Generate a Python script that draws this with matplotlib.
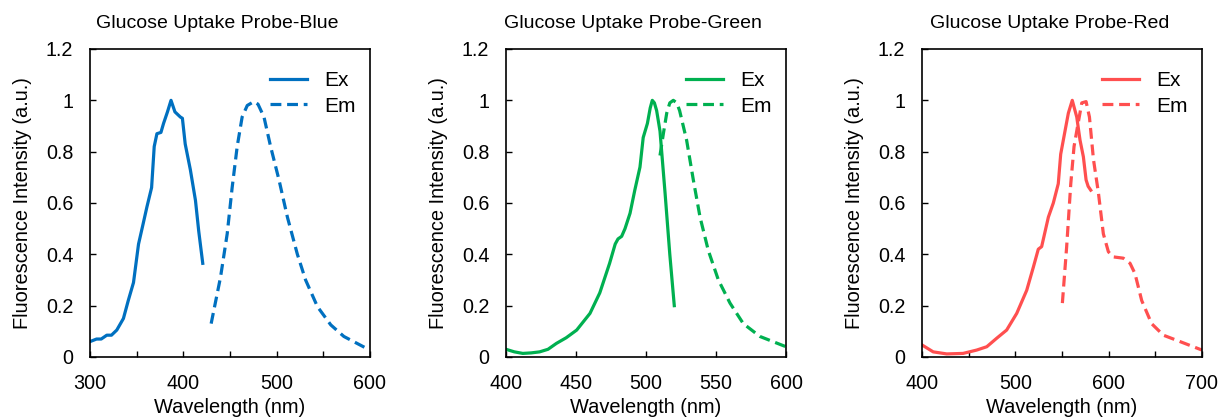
import matplotlib
matplotlib.use("Agg")
import matplotlib.pyplot as plt
from matplotlib.ticker import MultipleLocator

plt.rcParams['font.family'] = ['Liberation Sans', 'DejaVu Sans']

# ---- Data ----
titles = ["Glucose Uptake Probe-Blue", "Glucose Uptake Probe-Green", "Glucose Uptake Probe-Red"]
colors = ["#0070C0", "#00B050", "#FF4F4F"]
xlims = [(300, 600), (400, 600), (400, 700)]
xmajor = [100, 50, 100]
yticks = [0, 0.2, 0.4, 0.6, 0.8, 1.0, 1.2]
ytick_labels = ["0", "0.2", "0.4", "0.6", "0.8", "1", "1.2"]

blue_ex_x = [300, 307, 312, 318, 323, 328.7, 335.8, 341, 346.6, 352, 357, 361, 366, 368.8,
             371.7, 376, 378.8, 383, 386.8, 391, 396.8, 399, 402, 407.5, 413, 416.5, 420.8]
blue_ex_y = [0.06, 0.07, 0.07, 0.085, 0.085, 0.105, 0.15, 0.22, 0.29, 0.44, 0.52, 0.585, 0.66, 0.82,
             0.87, 0.875, 0.91, 0.955, 1.0, 0.955, 0.935, 0.93, 0.83, 0.73, 0.61, 0.49, 0.365]
blue_em_x = [429.8, 439.8, 447, 452.3, 457.7, 463, 468.5, 475.6, 480, 486.4, 493.5, 502.5,
             511.5, 522.2, 531, 543.7, 558, 572, 594]
blue_em_y = [0.13, 0.31, 0.48, 0.66, 0.82, 0.935, 0.98, 0.995, 0.985, 0.935, 0.82, 0.69,
             0.545, 0.40, 0.30, 0.196, 0.125, 0.08, 0.038]

green_ex_x = [400, 406, 412, 418, 424, 430, 436, 443, 450.5, 460, 467, 474, 478, 480, 482.6,
              485, 488.6, 492, 495.7, 498, 501, 503, 504.5, 506, 507.6, 510, 513.6, 517, 520.2]
green_ex_y = [0.03, 0.02, 0.014, 0.016, 0.02, 0.03, 0.053, 0.075, 0.105, 0.17, 0.25, 0.365, 0.44,
              0.46, 0.47, 0.50, 0.56, 0.65, 0.74, 0.855, 0.91, 0.97, 1.0, 0.99, 0.96, 0.88, 0.64,
              0.40, 0.20]
green_em_x = [510, 512.4, 514.8, 517, 519.5, 522, 524, 529, 533.8, 538.6, 544.5, 551.7, 560,
              569.5, 581.4, 600]
green_em_y = [0.785, 0.87, 0.95, 0.99, 1.0, 0.99, 0.96, 0.845, 0.69, 0.545, 0.415, 0.30, 0.21,
              0.13, 0.08, 0.04]

red_ex_x = [400, 412, 426.5, 444, 458.6, 469.4, 480, 490.7, 501.5, 512.2, 519.3, 524.6, 528.2,
            535.4, 540.7, 546, 548.6, 553.2, 556.8, 561, 565.8, 569.3, 572.9, 575.8, 578, 580.8]
red_ex_y = [0.047, 0.02, 0.012, 0.014, 0.027, 0.04, 0.073, 0.105, 0.17, 0.26, 0.35, 0.42, 0.43,
            0.545, 0.60, 0.675, 0.79, 0.88, 0.95, 1.0, 0.935, 0.845, 0.78, 0.69, 0.665, 0.65]
red_em_x = [550.4, 555, 559.4, 562.9, 566.5, 571.2, 575.8, 579.4, 583.7, 589, 594.3, 599.7, 605,
            615.7, 622.9, 628.2, 635.4, 646, 658.6, 676.5, 700]
red_em_y = [0.21, 0.43, 0.675, 0.82, 0.895, 0.99, 0.995, 0.935, 0.77, 0.64, 0.48, 0.41, 0.39,
            0.385, 0.365, 0.325, 0.22, 0.13, 0.085, 0.06, 0.027]

ex_x = [blue_ex_x, green_ex_x, red_ex_x]
ex_y = [blue_ex_y, green_ex_y, red_ex_y]
em_x = [blue_em_x, green_em_x, red_em_x]
em_y = [blue_em_y, green_em_y, red_em_y]

W, H = 1219, 418
fig = plt.figure(figsize=(W / 100, H / 100), dpi=100)
lefts = [90, 506, 922]
ax_w = 280
ax_top, ax_bot = 49, 357

for i in range(3):
    ax = fig.add_axes([lefts[i] / W, (H - ax_bot) / H, ax_w / W, (ax_bot - ax_top) / H])
    ax.plot(ex_x[i], ex_y[i], color=colors[i], lw=2.3, label="Ex")
    ax.plot(em_x[i], em_y[i], color=colors[i], lw=2.3, label="Em", dashes=(3.4, 1.8))
    ax.set_xlim(*xlims[i])
    ax.set_ylim(0, 1.2)
    ax.xaxis.set_major_locator(MultipleLocator(xmajor[i]))
    ax.xaxis.set_minor_locator(MultipleLocator(50))
    ax.set_yticks(yticks)
    ax.set_yticklabels(ytick_labels)
    ax.tick_params(axis='both', which='both', direction='in', length=4, width=1,
                   top=False, right=False, labelsize=14.2, colors='black')
    ax.tick_params(axis='y', pad=12)
    ax.tick_params(axis='x', pad=12)
    for s in ax.spines.values():
        s.set_linewidth(1.2)
        s.set_color('black')
    ax.set_xlabel("Wavelength (nm)", fontsize=14.4, labelpad=4)
    ax.set_ylabel("Fluorescence Intensity (a.u.)", fontsize=14.4, labelpad=10)
    ax.text(0.455, 1 + (ax_top - 23) / (ax_bot - ax_top), titles[i],
            transform=ax.transAxes, ha='center', va='center', fontsize=14)
    ax.legend(loc='upper right', bbox_to_anchor=(1.0, 0.975), frameon=False, fontsize=15,
              handlelength=1.8, handletextpad=0.8, labelspacing=0.3, borderaxespad=0.3)

fig.savefig("out.png", dpi=100)
